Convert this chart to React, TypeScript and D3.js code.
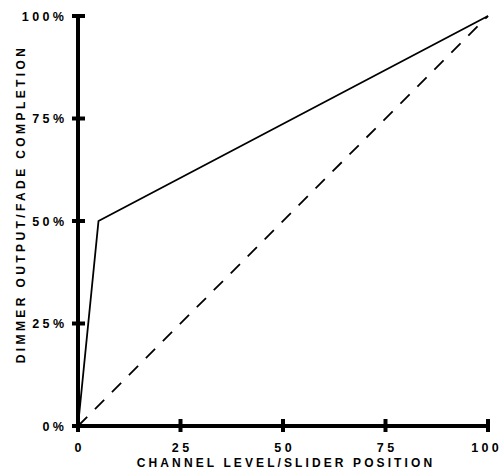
import React from "react";
import * as d3 from "d3";

const xTicks = [0, 25, 50, 75, 100];
const yTicks = [0, 25, 50, 75, 100];
const curveX = [0, 5, 100];
const curveY = [0, 50, 100];
const linearX = [0, 100];
const linearY = [0, 100];
const xTitle = "CHANNEL LEVEL/SLIDER POSITION";
const yTitle = "DIMMER OUTPUT/FADE COMPLETION";

export default function App() {
  const W = 503, H = 476;
  const x = d3.scaleLinear().domain([0, 100]).range([78, 488]);
  const y = d3.scaleLinear().domain([0, 100]).range([426, 16]);
  const line = d3.line<[number, number]>().x(d => x(d[0])).y(d => y(d[1]));
  const curve = curveX.map((v, i) => [v, curveY[i]] as [number, number]);
  const linear = linearX.map((v, i) => [v, linearY[i]] as [number, number]);
  const font = "'Liberation Sans', Arial, sans-serif";
  const ls = 3.4;
  return (
    <svg width={W} height={H} style={{ position: "absolute", left: 0, top: 0, background: "#fff" }}>
      <path d={line(linear) || ""} fill="none" stroke="#000" strokeWidth={1.8} strokeDasharray="13,11" />
      <path d={line(curve) || ""} fill="none" stroke="#000" strokeWidth={1.8} strokeLinejoin="round" />
      <line x1={x(0)} x2={x(0)} y1={y(100) - 1} y2={y(0) + 2} stroke="#000" strokeWidth={4} />
      <line x1={x(0) - 2} x2={x(100)} y1={y(0)} y2={y(0)} stroke="#000" strokeWidth={4} />
      {yTicks.map(t => (
        <g key={"y" + t}>
          <line x1={x(0) - 6} x2={x(0) + 7} y1={y(t)} y2={y(t)} stroke="#000" strokeWidth={4} />
          <text x={64 + ls} y={y(t)} dy="0.36em" textAnchor="end" fontFamily={font} fontWeight="bold" fontSize={12.5} letterSpacing={ls}>
            {t + "%"}
          </text>
        </g>
      ))}
      {xTicks.map(t => (
        <g key={"x" + t}>
          <line x1={x(t)} x2={x(t)} y1={y(0) - 7} y2={y(0) + 6} stroke="#000" strokeWidth={4} />
          <text x={x(t) + ls / 2 - (t === 100 ? 3 : 0)} y={452} textAnchor="middle" fontFamily={font} fontWeight="bold" fontSize={12.5} letterSpacing={ls}>
            {String(t)}
          </text>
        </g>
      ))}
      <text x={286} y={467} textAnchor="middle" fontFamily={font} fontWeight="bold" fontSize={12} letterSpacing={3.1}>
        {xTitle}
      </text>
      <text transform={`translate(25,204) rotate(-90)`} textAnchor="middle" fontFamily={font} fontWeight="bold" fontSize={12} letterSpacing={3.4}>
        {yTitle}
      </text>
    </svg>
  );
}
